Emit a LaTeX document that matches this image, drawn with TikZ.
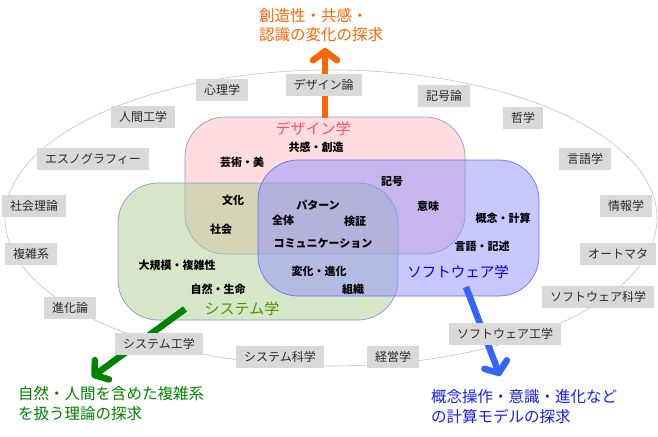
\documentclass[tikz,border=0pt]{standalone}
\usepackage{fontspec}
\setmainfont{Noto Sans CJK JP}
\usetikzlibrary{arrows.meta}
\definecolor{dfill}{RGB}{255,185,189}
\definecolor{sfill}{RGB}{175,205,145}
\definecolor{wfill}{RGB}{145,145,255}
\definecolor{dline}{RGB}{150,150,205}
\definecolor{sline}{RGB}{130,160,190}
\definecolor{wline}{RGB}{110,110,255}
\definecolor{gbox}{RGB}{217,217,217}
\definecolor{gtext}{RGB}{40,40,40}
\definecolor{ellc}{RGB}{195,195,195}
\definecolor{dtitle}{RGB}{255,80,100}
\definecolor{stitle}{RGB}{80,150,0}
\definecolor{wtitle}{RGB}{0,0,255}
\definecolor{orangec}{RGB}{255,102,0}
\definecolor{greenc}{RGB}{0,130,0}
\definecolor{bluearr}{RGB}{50,100,255}
\definecolor{bluetext}{RGB}{20,30,255}
\tikzset{
  field/.style={draw, line width=0.7pt, rounded corners=40pt, fill opacity=0.5, minimum width=280pt, minimum height=137pt},
  tag/.style={fill=gbox, text=gtext, font=\fontsize{12}{12}\selectfont, inner xsep=8pt, inner ysep=0pt, minimum height=22pt},
  term/.style={font=\fontsize{11}{11}\selectfont\bfseries, inner sep=1pt},
  ftitle/.style={font=\fontsize{15}{15}\selectfont, inner sep=1pt},
  goal/.style={font=\fontsize{15.5}{19.5}\selectfont, align=left, anchor=west, inner sep=0pt},
  bigarrow/.style={line width=6.5pt, -{Straight Barb[length=9pt,width=24pt,round]}}
}
\begin{document}
\begin{tikzpicture}[x=1pt,y=-1pt]
\useasboundingbox (0,0) rectangle (658,436);
% outer ellipse
\draw[ellc, line width=0.6pt] (331,218) ellipse [x radius=326, y radius=148];
% fields
\node[field, fill=dfill, draw=dline] (design) at (325,185.5) {};
\node[field, fill=sfill, draw=sline] (system) at (258,251.5) {};
\node[field, fill=wfill, draw=wline, minimum width=281pt, minimum height=136pt] (soft) at (398.5,228) {};
% arrows
\coordinate (oS) at (325,118);
\coordinate (oE) at (325,48);
\coordinate (gS) at (185,309);
\coordinate (gE) at (92,377);
\coordinate (bS) at (466,287);
\coordinate (bE) at (500,376);
\draw[bigarrow, orangec] (oS) -- (oE);
\draw[bigarrow, greenc] (gS) -- (gE);
\draw[bigarrow, bluearr] (bS) -- (bE);
% outer tags
\node[tag] (t1) at (222,90) {心理学};
\node[tag] (t2) at (323.5,84.5) {デザイン論};
\node[tag] (t3) at (444,96) {記号論};
\node[tag] (t4) at (143,117) {人間工学};
\node[tag] (t5) at (523,118) {哲学};
\node[tag] (t6) at (93,159) {エスノグラフィー};
\node[tag] (t7) at (585,159) {言語学};
\node[tag] (t8) at (34,206) {社会理論};
\node[tag] (t9) at (626,206) {情報学};
\node[tag] (t10) at (31,254) {複雑系};
\node[tag] (t11) at (618,254) {オートマタ};
\node[tag] (t12) at (70,308) {進化論};
\node[tag] (t13) at (598,297) {ソフトウェア科学};
\node[tag] (t14) at (159,344) {システム工学};
\node[tag] (t15) at (280,357) {システム科学};
\node[tag] (t16) at (393,357) {経営学};
\node[tag] (t17) at (505,334) {ソフトウェア工学};
% field titles
\node[ftitle, text=dtitle] (dt) at (313,129) {デザイン学};
\node[ftitle, text=stitle] (st) at (242,309) {システム学};
\node[ftitle, text=wtitle, font=\fontsize{14.5}{14.5}\selectfont] (wt) at (458,272) {ソフトウェア学};
% inner terms
\node[term] (k1) at (316,147) {共感・創造};
\node[term] (k2) at (242,162) {芸術・美};
\node[term] (k3) at (392,181) {記号};
\node[term] (k4) at (233,200) {文化};
\node[term] (k5) at (428,206) {意味};
\node[term] (k6) at (318,205) {パターン};
\node[term] (k7) at (283,220) {全体};
\node[term] (k8) at (355,221) {検証};
\node[term] (k9) at (221,229) {社会};
\node[term] (k10) at (503,218) {概念・計算};
\node[term] (k11) at (323,243) {コミュニケーション};
\node[term] (k12) at (482,246) {言語・記述};
\node[term] (k13) at (177,265) {大規模・複雑性};
\node[term] (k14) at (319,271) {変化・進化};
\node[term] (k15) at (218,289) {自然・生命};
\node[term] (k16) at (353,289) {組織};
% goals
\node[goal, text=orangec] (og) at (259,25) {創造性・共感・\\認識の変化の探求};
\node[goal, text=greenc] (gg) at (18,403.5) {自然・人間を含めた複雑系\\を扱う理論の探求};
\node[goal, text=bluetext] (bg) at (431,406.5) {概念操作・意識・進化など\\の計算モデルの探求};
\end{tikzpicture}
\end{document}
